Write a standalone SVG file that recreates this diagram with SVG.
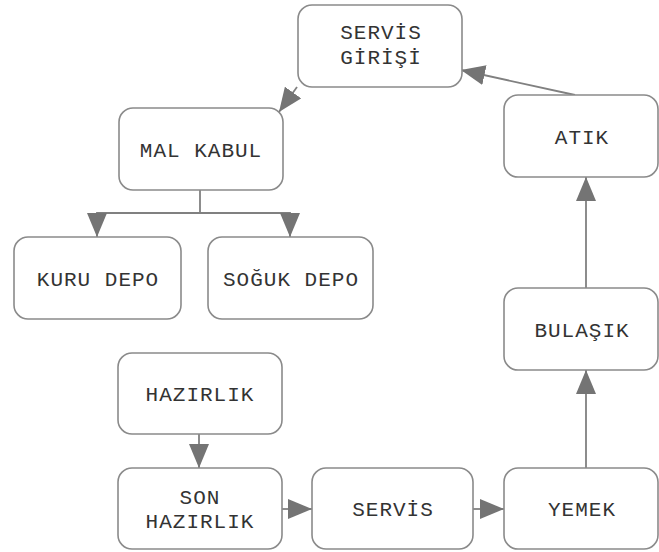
<svg xmlns="http://www.w3.org/2000/svg" width="659" height="552" viewBox="0 0 659 552">
<style>
.box{fill:#fff;stroke:#8a8a8a;stroke-width:1.6}
.lbl{font-family:"Liberation Mono","DejaVu Sans Mono",monospace;font-size:21px;letter-spacing:1px;fill:#333;text-anchor:middle}
.edge{fill:none;stroke:#808080;stroke-width:1.8}
</style>
<defs>
<marker id="ah" markerUnits="userSpaceOnUse" viewBox="0 0 24 20" refX="24" refY="10" markerWidth="24" markerHeight="20" orient="auto">
<path d="M0,0 L24,10 L0,20 Z" fill="#747474"/>
</marker>
</defs>
<rect width="659" height="552" fill="#fff"/>
<g id="connectors">
<line class="edge" x1="575" y1="95" x2="461" y2="70" marker-end="url(#ah)"/>
<line class="edge" x1="297" y1="87" x2="279" y2="112" marker-end="url(#ah)"/>
<polyline class="edge" points="200,190 200,213"/>
<polyline class="edge" points="97,213 290,213"/>
<line class="edge" x1="97" y1="212" x2="97" y2="237" marker-end="url(#ah)"/>
<line class="edge" x1="290" y1="212" x2="290" y2="237" marker-end="url(#ah)"/>
<line class="edge" x1="199" y1="434" x2="199" y2="468" marker-end="url(#ah)"/>
<line class="edge" x1="282" y1="509" x2="312" y2="509" marker-end="url(#ah)"/>
<line class="edge" x1="473" y1="509" x2="504" y2="509" marker-end="url(#ah)"/>
<line class="edge" x1="586" y1="468" x2="586" y2="370" marker-end="url(#ah)"/>
<line class="edge" x1="586" y1="288" x2="586" y2="177" marker-end="url(#ah)"/>
</g>
<g id="servis-girisi">
<rect class="box" x="298" y="5" width="164" height="82" rx="14"/>
<text class="lbl" x="381" y="39">SERVİS</text>
<text class="lbl" x="381" y="64">GİRİŞİ</text>
</g>
<g id="mal-kabul">
<rect class="box" x="119" y="108" width="164" height="82" rx="14"/>
<text class="lbl" x="201" y="157">MAL KABUL</text>
</g>
<g id="kuru-depo">
<rect class="box" x="14" y="237" width="167" height="82" rx="14"/>
<text class="lbl" x="98" y="286">KURU DEPO</text>
</g>
<g id="soguk-depo">
<rect class="box" x="208" y="237" width="165" height="82" rx="14"/>
<text class="lbl" x="291" y="286">SOĞUK DEPO</text>
</g>
<g id="atik">
<rect class="box" x="504" y="95" width="154" height="82" rx="14"/>
<text class="lbl" x="582" y="144">ATIK</text>
</g>
<g id="bulasik">
<rect class="box" x="504" y="288" width="154" height="82" rx="14"/>
<text class="lbl" x="582" y="337">BULAŞIK</text>
</g>
<g id="hazirlik">
<rect class="box" x="118" y="353" width="164" height="81" rx="14"/>
<text class="lbl" x="200" y="401">HAZIRLIK</text>
</g>
<g id="son-hazirlik">
<rect class="box" x="118" y="468" width="164" height="81" rx="14"/>
<text class="lbl" x="200" y="504">SON</text>
<text class="lbl" x="200" y="528">HAZIRLIK</text>
</g>
<g id="servis">
<rect class="box" x="312" y="468" width="161" height="81" rx="14"/>
<text class="lbl" x="393" y="516">SERVİS</text>
</g>
<g id="yemek">
<rect class="box" x="504" y="468" width="154" height="81" rx="14"/>
<text class="lbl" x="582" y="516">YEMEK</text>
</g>
</svg>
